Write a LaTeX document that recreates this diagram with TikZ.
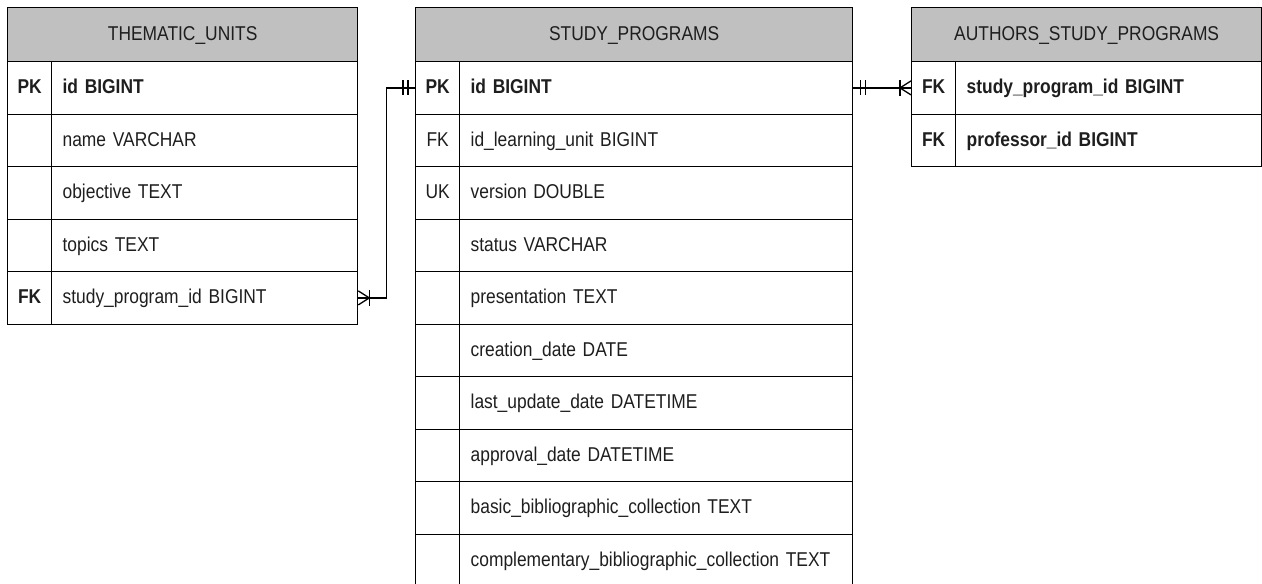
\documentclass[tikz,border=0pt]{standalone}
\usepackage{fontspec}
\setmainfont[FakeStretch=0.87,WordSpace=0.8]{Liberation Sans}
\usetikzlibrary{calc}
\definecolor{hdrgray}{RGB}{192,192,192}
\definecolor{txt}{RGB}{30,30,30}
\tikzset{
  cell/.style={draw=black, line width=1.3pt, rectangle, anchor=north west, inner sep=0pt,
    minimum height=52.5pt, font=\fontsize{20}{24}\selectfont, text=txt,
    text height=16.5pt, text depth=4.5pt},
  hdr/.style={cell, fill=hdrgray, minimum height=54pt},
  keyc/.style={cell, minimum width=44pt},
  fld/.style={cell, text width=#1, align=left, inner xsep=11pt},
  conn/.style={draw=black, line width=1.3pt},
}
\begin{document}
\begin{tikzpicture}[x=1pt,y=-1pt]
\useasboundingbox (0,0) rectangle (1262,584);
% THEMATIC_UNITS
\node[hdr, minimum width=350pt] (tuh) at (7,7) {THEMATIC\_UNITS};
\node[keyc] (tuk1) at (7,61) {\bfseries PK};
\node[fld=284pt] (tuf1) at (51,61) {\bfseries id BIGINT};
\node[keyc] (tuk2) at (7,113.5) {};
\node[fld=284pt] (tuf2) at (51,113.5) {name VARCHAR};
\node[keyc] (tuk3) at (7,166) {};
\node[fld=284pt] (tuf3) at (51,166) {objective TEXT};
\node[keyc] (tuk4) at (7,218.5) {};
\node[fld=284pt] (tuf4) at (51,218.5) {topics TEXT};
\node[keyc] (tuk5) at (7,271) {\bfseries FK};
\node[fld=284pt] (tuf5) at (51,271) {study\_program\_id BIGINT};
% STUDY_PROGRAMS
\node[hdr, minimum width=437pt] (sph) at (415,7) {STUDY\_PROGRAMS};
\node[keyc] (spk1) at (415,61) {\bfseries PK};
\node[fld=371pt] (spf1) at (459,61) {\bfseries id BIGINT};
\node[keyc] (spk2) at (415,113.5) {FK};
\node[fld=371pt] (spf2) at (459,113.5) {id\_learning\_unit BIGINT};
\node[keyc] (spk3) at (415,166) {UK};
\node[fld=371pt] (spf3) at (459,166) {version DOUBLE};
\node[keyc] (spk4) at (415,218.5) {};
\node[fld=371pt] (spf4) at (459,218.5) {status VARCHAR};
\node[keyc] (spk5) at (415,271) {};
\node[fld=371pt] (spf5) at (459,271) {presentation TEXT};
\node[keyc] (spk6) at (415,323.5) {};
\node[fld=371pt] (spf6) at (459,323.5) {creation\_date DATE};
\node[keyc] (spk7) at (415,376) {};
\node[fld=371pt] (spf7) at (459,376) {last\_update\_date DATETIME};
\node[keyc] (spk8) at (415,428.5) {};
\node[fld=371pt] (spf8) at (459,428.5) {approval\_date DATETIME};
\node[keyc] (spk9) at (415,481) {};
\node[fld=371pt] (spf9) at (459,481) {basic\_bibliographic\_collection TEXT};
\node[keyc] (spk10) at (415,533.5) {};
\node[fld=371pt] (spf10) at (459,533.5) {complementary\_bibliographic\_collection TEXT};
% AUTHORS_STUDY_PROGRAMS
\node[hdr, minimum width=350pt] (ash) at (911,7) {AUTHORS\_STUDY\_PROGRAMS};
\node[keyc] (ask1) at (911,61) {\bfseries FK};
\node[fld=284pt] (asf1) at (955,61) {\bfseries study\_program\_id BIGINT};
\node[keyc] (ask2) at (911,113.5) {\bfseries FK};
\node[fld=284pt] (asf2) at (955,113.5) {\bfseries professor\_id BIGINT};
% connectors
\coordinate (bend) at ($(tuf5.east)+(28,0)$);
\draw[conn] (tuf5.east) -- (bend) |- (spk1.west);
\draw[conn] (spf1.east) -- (ask1.west);
% one-and-only-one marks
\draw[conn] ($(spk1.west)+(-12,-7.5)$) -- ++(0,15);
\draw[conn] ($(spk1.west)+(-7,-7.5)$) -- ++(0,15);
\draw[conn] ($(spf1.east)+(7,-7.5)$) -- ++(0,15);
\draw[conn] ($(spf1.east)+(12,-7.5)$) -- ++(0,15);
% one-or-many marks
\draw[conn] ($(tuf5.east)+(0,-7)$) -- ($(tuf5.east)+(11,0)$) -- ($(tuf5.east)+(0,7)$);
\draw[conn] ($(tuf5.east)+(11,-8)$) -- ++(0,16);
\draw[conn] ($(ask1.west)+(0,-7)$) -- ($(ask1.west)+(-11,0)$) -- ($(ask1.west)+(0,7)$);
\draw[conn] ($(ask1.west)+(-11,-8)$) -- ++(0,16);
\end{tikzpicture}
\end{document}
